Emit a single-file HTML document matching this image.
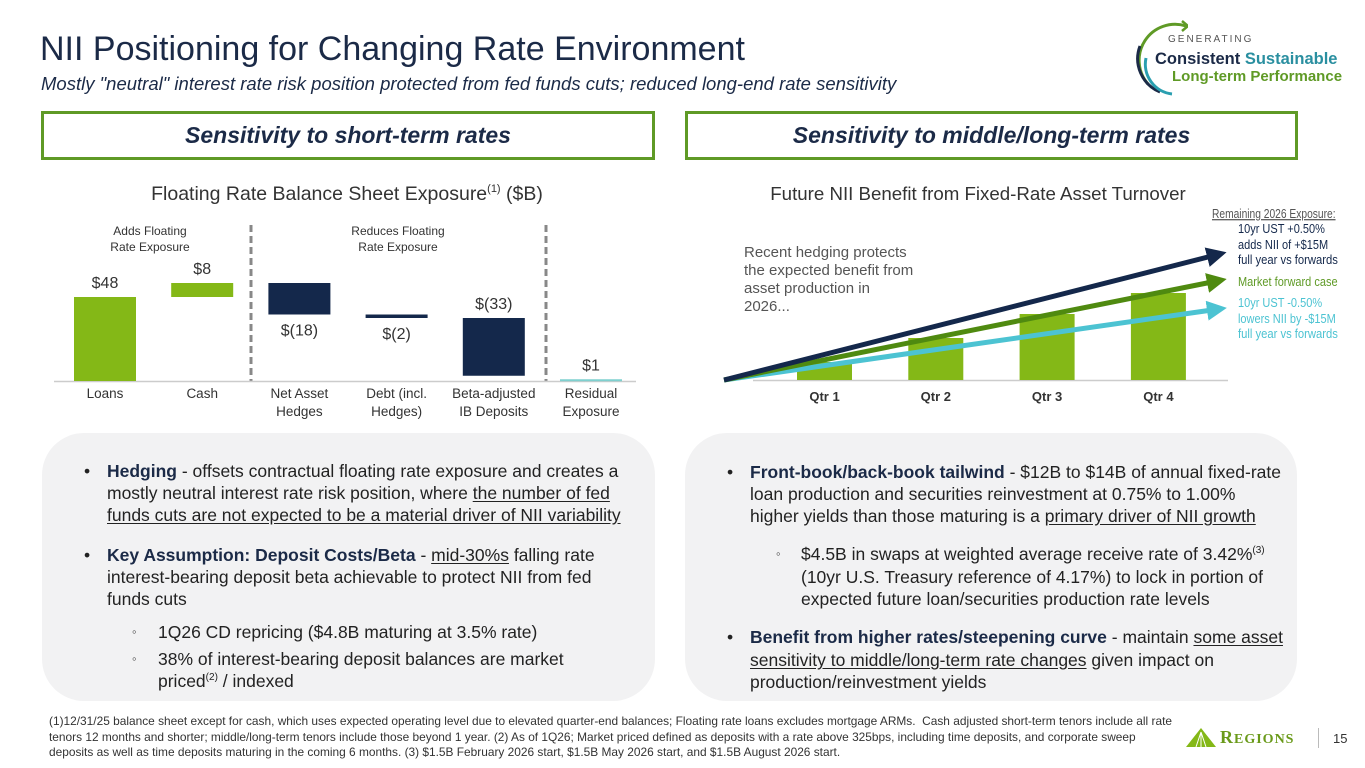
<!DOCTYPE html>
<html><head><meta charset="utf-8">
<style>
body{margin:0;width:1365px;height:768px;background:#fff;position:relative;overflow:hidden;font-family:"Liberation Sans",sans-serif;color:#1b2a47}
.a{position:absolute;white-space:nowrap;transform-origin:0 0}
.box{position:absolute;border:3px solid #5f9a26;box-sizing:border-box;display:flex;align-items:center;justify-content:center;font-weight:bold;font-style:italic;font-size:23px;color:#1b2a47}
.panel{position:absolute;background:#f2f2f3;border-radius:42px}
.t{font-size:17.5px;line-height:22.3px;color:#222}
.t b{color:#1b2a47}
.t u{text-decoration:underline;text-underline-offset:2px}
.sb{font-size:13px;color:#444}
sup{font-size:10px;line-height:0}
svg text{font-family:"Liberation Sans",sans-serif}
</style></head><body>
<div class="a" style="left:40px;top:30px;font-size:34px;color:#1b2a47">NII Positioning for Changing Rate Environment</div>
<div class="a" style="left:41px;top:73px;font-size:18.5px;font-style:italic;color:#1b2a47">Mostly "neutral" interest rate risk position protected from fed funds cuts; reduced long-end rate sensitivity</div>

<div style="position:absolute;left:1128px;top:18px;width:237px;height:80px">
<svg width="60" height="80" style="position:absolute;left:0;top:0">
<path d="M58 8 A36 36 0 0 0 20 66" fill="none" stroke="#5f9a26" stroke-width="3"/>
<path d="M54 3 L60 8 L54 13" fill="none" stroke="#5f9a26" stroke-width="2.5"/>
<path d="M12 28 A36 36 0 0 0 32 74" fill="none" stroke="#1b2a47" stroke-width="3"/>
<path d="M18 40 A30 30 0 0 0 44 76" fill="none" stroke="#2a9fb0" stroke-width="3"/>
</svg>
<div class="a" style="left:40px;top:16px;font-size:10px;letter-spacing:2px;color:#555">GENERATING</div>
<div class="a" style="left:27px;top:32px;font-size:16.5px;font-weight:bold;color:#1b2a47">Consistent <span style="color:#2a8fa0">Sustainable</span></div>
<div class="a" style="left:44px;top:50px;font-size:15px;font-weight:bold;color:#5f9a26">Long-term Performance</div>
</div>

<div class="box" style="left:41px;top:111px;width:614px;height:49px"><span>Sensitivity to short-term rates</span></div>
<div class="box" style="left:685px;top:111px;width:613px;height:49px"><span>Sensitivity to middle/long-term rates</span></div>

<svg id="left-chart" width="680" height="260" style="position:absolute;left:0;top:175px"></svg>
<svg id="right-chart" width="685" height="260" style="position:absolute;left:680px;top:175px"></svg>

<div class="panel" style="left:42px;top:433px;width:613px;height:268px"></div>
<div class="panel" style="left:685px;top:433px;width:612px;height:268px"></div>

<div class="a t" style="left:84px;top:460px">•</div>
<div class="a t" style="left:107px;top:460px"><b>Hedging</b> - offsets contractual floating rate exposure and creates a</div>
<div class="a t" style="left:107px;top:482px">mostly neutral interest rate risk position, where <u>the number of fed </u></div>
<div class="a t" style="left:107px;top:504px"><u>funds cuts are not expected to be a material driver of NII variability</u></div>
<div class="a t" style="left:84px;top:544px">•</div>
<div class="a t" style="left:107px;top:544px"><b>Key Assumption: Deposit Costs/Beta</b> - <u>mid-30%s</u> falling rate</div>
<div class="a t" style="left:107px;top:566px">interest-bearing deposit beta achievable to protect NII from fed</div>
<div class="a t" style="left:107px;top:588px">funds cuts</div>
<div class="a sb" style="left:132px;top:624px">◦</div>
<div class="a t" style="left:158px;top:621px">1Q26 CD repricing ($4.8B maturing at 3.5% rate)</div>
<div class="a sb" style="left:132px;top:651px">◦</div>
<div class="a t" style="left:158px;top:648px">38% of interest-bearing deposit balances are market</div>
<div class="a t" style="left:158px;top:670px">priced<sup>(2)</sup> / indexed</div>

<div class="a t" style="left:727px;top:461px">•</div>
<div class="a t" style="left:750px;top:461px"><b>Front-book/back-book tailwind</b> - $12B to $14B of annual fixed-rate</div>
<div class="a t" style="left:750px;top:483px">loan production and securities reinvestment at 0.75% to 1.00%</div>
<div class="a t" style="left:750px;top:505px">higher yields than those maturing is a <u>primary driver of NII growth</u></div>
<div class="a sb" style="left:776px;top:546px">◦</div>
<div class="a t" style="left:801px;top:543px">$4.5B in swaps at weighted average receive rate of 3.42%<sup>(3)</sup></div>
<div class="a t" style="left:801px;top:566px">(10yr U.S. Treasury reference of 4.17%) to lock in portion of</div>
<div class="a t" style="left:801px;top:588px">expected future loan/securities production rate levels</div>
<div class="a t" style="left:727px;top:626px">•</div>
<div class="a t" style="left:750px;top:626px"><b>Benefit from higher rates/steepening curve</b> - maintain <u>some asset </u></div>
<div class="a t" style="left:750px;top:649px"><u>sensitivity to middle/long-term rate changes</u> given impact on</div>
<div class="a t" style="left:750px;top:671px">production/reinvestment yields</div>

<div class="a" style="left:49px;top:714px;font-size:11.9px;line-height:15.5px;color:#333">(1)12/31/25 balance sheet except for cash, which uses expected operating level due to elevated quarter-end balances; Floating rate loans excludes mortgage ARMs.&nbsp; Cash adjusted short-term tenors include all rate<br>tenors 12 months and shorter; middle/long-term tenors include those beyond 1 year. (2) As of 1Q26; Market priced defined as deposits with a rate above 325bps, including time deposits, and corporate sweep<br>deposits as well as time deposits maturing in the coming 6 months. (3) $1.5B February 2026 start, $1.5B May 2026 start, and $1.5B August 2026 start.</div>

<div style="position:absolute;left:1186px;top:726px">
<svg width="30" height="20" style="position:absolute;left:0;top:2px"><polygon points="0,19 15,0 30,19" fill="#84b817"/><path d="M15 4 L10 19 M15 4 L15 19 M15 4 L20 19" stroke="#fff" stroke-width="1"/></svg>
<div class="a" style="left:34px;top:1px;font-family:'Liberation Serif',serif;font-weight:bold;font-size:18px;color:#6a9a1a;letter-spacing:1px">R<span style="font-size:14px">EGIONS</span></div>
</div>
<div class="a" style="left:1318px;top:728px;width:1px;height:20px;background:#bbb"></div>
<div class="a" style="left:1333px;top:731px;font-size:13px;color:#333">15</div>

<script>
// Left chart data
const leftCategories = [["Loans"],["Cash"],["Net Asset","Hedges"],["Debt (incl.","Hedges)"],["Beta-adjusted","IB Deposits"],["Residual","Exposure"]];
const leftValues = [48, 8, -18, -2, -33, 1];
const leftLabels = ["$48","$8","$(18)","$(2)","$(33)","$1"];
const leftKinds = ["add","add","reduce","reduce","reduce","total"];
// Right chart data
const quarters = ["Qtr 1","Qtr 2","Qtr 3","Qtr 4"];
const benefitValues = [18, 42, 66, 87];
const scenarioNames = ["10yr UST +0.50%","Market forward case","10yr UST -0.50%"];
const scenarioEnds = [124, 98, 70];

const NS = "http://www.w3.org/2000/svg";
function mk(svg, tag, attrs, text){
  const e = document.createElementNS(NS, tag);
  for (const k in attrs) e.setAttribute(k, attrs[k]);
  if (text !== undefined) e.textContent = text;
  svg.appendChild(e);
  return e;
}
(function(){
  const svg = document.getElementById('left-chart');
  const base = 206;
  const yL = v => base - v * 1.75;
  const xL = i => 74 + i * 97.2;
  const bw = 62;
  let t = mk(svg,'text',{x:347,y:25,'text-anchor':'middle','font-size':19.5,fill:'#333'});
  t.innerHTML = 'Floating Rate Balance Sheet Exposure<tspan font-size="11" dy="-8">(1)</tspan><tspan dy="8"> ($B)</tspan>';
  
  
  [["Adds Floating","Rate Exposure",150],["Reduces Floating","Rate Exposure",398]].forEach((a,i)=>{
    [a[0],a[1]].forEach((s,j)=>{
      const e = mk(svg,'text',{x:a[2],y:60+j*16,'text-anchor':'middle','font-size':12,fill:'#333'},s);
      
      
    });
  });
  [251,546].forEach(x=>{
    const e = mk(svg,'line',{x1:x,x2:x,y1:50,y2:206,stroke:'#888','stroke-width':3,'stroke-dasharray':'7,4'});
    
    
  });
  mk(svg,'line',{x1:54,x2:636,y1:base+0.5,y2:base+0.5,stroke:'#ccc','stroke-width':1.5});
  let cum = 0;
  leftValues.forEach((v,i)=>{
    let start, end;
    if (leftKinds[i]==='total'){ start=0; end=v; } else { start=cum; end=cum+v; cum=end; }
    const top = yL(Math.max(start,end)), bot = yL(Math.min(start,end));
    const col = leftKinds[i]==='add' ? '#84b817' : leftKinds[i]==='reduce' ? '#14284b' : '#7fd0cf';
    const r = mk(svg,'rect',{x:xL(i),y:top,width:bw,height:Math.max(bot-top,2),fill:col});
    
    
    const cx = xL(i)+bw/2;
    const below = leftKinds[i]==='reduce' && i<4;
    const ly = below ? bot + 21 : top - 9;
    const lb = mk(svg,'text',{x:cx,y:ly,'text-anchor':'middle','font-size':16,fill:'#333'},leftLabels[i]);
    
    
    leftCategories[i].forEach((s,j)=>{
      const c = mk(svg,'text',{x:cx,y:base+17+j*18,'text-anchor':'middle','font-size':13.5,fill:'#333'},s);
      
      
    });
  });
})();
(function(){
  const svg = document.getElementById('right-chart');
  const base = 205;
  const yR = v => base - v;
  const xR = i => 117 + i * 111.3;
  const bw = 55;
  let t = mk(svg,'text',{x:298,y:25,'text-anchor':'middle','font-size':18.7,fill:'#333'},'Future NII Benefit from Fixed-Rate Asset Turnover');
  
  
  mk(svg,'line',{x1:73,x2:548,y1:base+0.5,y2:base+0.5,stroke:'#ccc','stroke-width':1.5});
  quarters.forEach((q,i)=>{
    const r = mk(svg,'rect',{x:xR(i),y:yR(benefitValues[i]),width:bw,height:benefitValues[i],fill:'#84b817'});
    
    
    const l = mk(svg,'text',{x:xR(i)+bw/2,y:base+21,'text-anchor':'middle','font-size':13,'font-weight':'bold',fill:'#333'},q);
    
    
  });
  const cols = ['#14284b','#4f8a10','#4cc3d2'];
  const defs = mk(svg,'defs',{});
  cols.forEach((c,i)=>{
    const m = document.createElementNS(NS,'marker');
    m.setAttribute('id','ah'+i);m.setAttribute('markerWidth','4');m.setAttribute('markerHeight','4');
    m.setAttribute('refX','1');m.setAttribute('refY','2');m.setAttribute('orient','auto');m.setAttribute('markerUnits','strokeWidth');
    const p = document.createElementNS(NS,'path');p.setAttribute('d','M0,0 L4,2 L0,4 z');p.setAttribute('fill',c);
    m.appendChild(p);defs.appendChild(m);
  });
  [2,1,0].forEach(i=>{
    const ln = mk(svg,'line',{x1:44,y1:base,x2:532,y2:yR(scenarioEnds[i]),stroke:cols[i],'stroke-width':5,'marker-end':`url(#ah${i})`});
    
    
  });
  ["Recent hedging protects","the expected benefit from","asset production in","2026..."].forEach((s,j)=>{
    const e = mk(svg,'text',{x:64,y:82+j*18,'font-size':15,fill:'#555'},s);
    
    
  });
  const leg = [
    [532,43,'Remaining 2026 Exposure:','#555',true,0.82],
    [558,58,'10yr UST +0.50%',cols[0],false,0.88],[558,74,'adds NII of  +$15M',cols[0],false,0.88],[558,89,'full year vs forwards',cols[0],false,0.9],
    [558,111,'Market forward case','#5f9a26',false,0.88],
    [558,132,'10yr UST -0.50%',cols[2],false,0.88],[558,148,'lowers NII by  -$15M',cols[2],false,0.88],[558,163,'full year vs forwards',cols[2],false,0.9]
  ];
  leg.forEach(a=>{
    const e = mk(svg,'text',{x:a[0],y:a[1],'font-size':12.5,fill:a[3],transform:`translate(${a[0]} 0) scale(${a[5]} 1) translate(${-a[0]} 0)`},a[2]);
    if (a[4]) e.setAttribute('text-decoration','underline');
    
    
  });
})();
</script>
</body></html>
